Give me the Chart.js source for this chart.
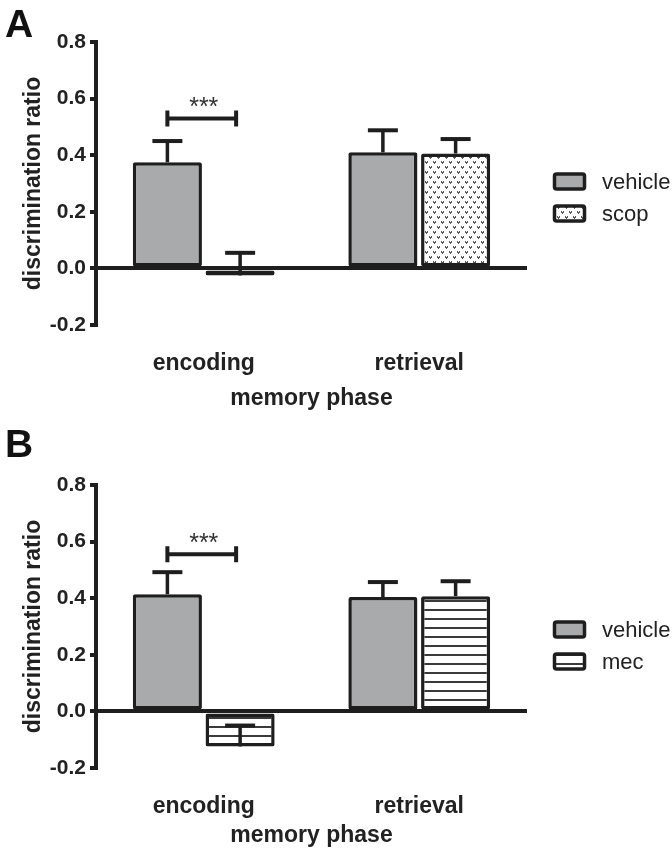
<!DOCTYPE html>
<html lang="en">
<head>
    <meta charset="UTF-8">
    <title>Discrimination ratio by memory phase</title>
    <script src="https://cdn.jsdelivr.net/npm/chart.js"></script>
    <style>
        * { margin: 0; padding: 0; box-sizing: border-box; }
        body { background: #fff; width: 672px; height: 852px; position: relative; overflow: hidden; }
        .panel { position: absolute; left: 0; width: 672px; }
        #panelA { top: 0; height: 420px; }
        #panelB { top: 420px; height: 432px; }
    </style>
</head>
<body>
    <div class="panel" id="panelA"><canvas id="chartA"></canvas></div>
    <div class="panel" id="panelB"><canvas id="chartB"></canvas></div>

    <script>
        // values
        const categories = ['encoding', 'retrieval'];
        const yTicks = [-0.2, 0.0, 0.2, 0.4, 0.6, 0.8];

        const vehicleA = [0.375, 0.41];
        const vehicleErrA = [0.075, 0.078];
        const scop = [-0.025, 0.406];
        const scopErr = [0.08, 0.051];
        const sigA = 0.53;

        const vehicleB = [0.414, 0.404];
        const vehicleErrB = [0.078, 0.053];
        const mec = [-0.124, 0.407];
        const mecErr = [0.074, 0.053];
        const sigB = 0.555;

        const FONT = "'Liberation Sans', Arial, sans-serif";
        const INK = '#1e1e1e';
        const GREY = '#a9aaac';

        function dotPattern() {
            // little grey "hearts", 8px apart, rows staggered every 5px
            const c = document.createElement('canvas');
            c.width = 8; c.height = 10;
            const g = c.getContext('2d');
            g.fillStyle = '#fff';
            g.fillRect(0, 0, 8, 10);
            g.fillStyle = '#5a5a5a';
            const heart = (x, y) => {
                g.fillRect(x, y, 1, 1);
                g.fillRect(x + 2, y, 1, 1);
                g.fillRect(x, y + 1, 3, 1);
                g.fillRect(x + 1, y + 2, 1, 1);
            };
            heart(1, 1);
            heart(5, 6);
            return g.createPattern(c, 'repeat');
        }

        function linePattern() {
            const c = document.createElement('canvas');
            c.width = 4; c.height = 9;
            const g = c.getContext('2d');
            g.fillStyle = '#fff';
            g.fillRect(0, 0, 4, 9);
            g.fillStyle = '#3a3a3a';
            g.fillRect(0, 0, 4, 2);
            return g.createPattern(c, 'repeat');
        }

        // error bars, significance bracket, legend and panel letter
        const decor = {
            id: 'decor',
            afterDatasetsDraw(chart, args, opts) {
                const ctx = chart.ctx;
                const ys = chart.scales.y;
                const area = chart.chartArea;
                ctx.save();
                ctx.strokeStyle = INK;
                ctx.lineCap = 'butt';

                // error bars (drawn upward from the bar end)
                chart.data.datasets.forEach((ds, i) => {
                    chart.getDatasetMeta(i).data.forEach((bar, j) => {
                        const y0 = ys.getPixelForValue(ds.data[j]);
                        const y1 = ys.getPixelForValue(ds.data[j] + ds.errors[j]);
                        ctx.lineWidth = 3.5;
                        ctx.beginPath();
                        ctx.moveTo(bar.x, y0);
                        ctx.lineTo(bar.x, y1);
                        ctx.stroke();
                        ctx.lineWidth = 4;
                        ctx.beginPath();
                        ctx.moveTo(bar.x - 15, y1);
                        ctx.lineTo(bar.x + 15, y1);
                        ctx.stroke();
                    });
                });

                // significance bracket over encoding
                const xa = chart.getDatasetMeta(0).data[0].x;
                const xb = chart.getDatasetMeta(1).data[0].x;
                const ySig = ys.getPixelForValue(opts.sig);
                ctx.lineWidth = 4;
                ctx.beginPath();
                ctx.moveTo(xa, ySig); ctx.lineTo(xb - 4, ySig);
                ctx.moveTo(xa, ySig - 8); ctx.lineTo(xa, ySig + 8);
                ctx.moveTo(xb - 4, ySig - 8); ctx.lineTo(xb - 4, ySig + 8);
                ctx.stroke();
                ctx.fillStyle = '#333';
                ctx.font = '25px ' + FONT;
                ctx.textAlign = 'center';
                ctx.textBaseline = 'alphabetic';
                ctx.fillText('***', (xa + xb) / 2, ySig - 3);

                // legend
                const midY = (area.top + area.bottom) / 2;
                const bx = area.right + 26;
                chart.data.datasets.forEach((ds, i) => {
                    const cy = midY + opts.legendShift + i * 32;
                    ctx.beginPath();
                    ctx.roundRect(bx + 1.5, cy - 7.5, 30, 15, 2);
                    ctx.fillStyle = ds.backgroundColor;
                    ctx.fill();
                    ctx.lineWidth = 3.5;
                    ctx.strokeStyle = INK;
                    ctx.stroke();
                    ctx.fillStyle = '#222';
                    ctx.font = '22px ' + FONT;
                    ctx.textAlign = 'left';
                    ctx.textBaseline = 'middle';
                    ctx.fillText(ds.label, bx + 49, cy + 1);
                });

                // panel letter
                ctx.fillStyle = '#111';
                ctx.font = 'bold 39px ' + FONT;
                ctx.textAlign = 'left';
                ctx.textBaseline = 'top';
                ctx.fillText(opts.letter, 5, 7);
                ctx.restore();
            }
        };

        function makeChart(id, treatLabel, treatValues, treatErr, treatFill, vehValues, vehErr, cfg) {
            const ctx = document.getElementById(id).getContext('2d');
            return new Chart(ctx, {
                type: 'bar',
                data: {
                    labels: categories,
                    datasets: [{
                        label: 'vehicle',
                        data: vehValues,
                        errors: vehErr,
                        backgroundColor: GREY,
                        borderColor: INK,
                        borderWidth: 3.5,
                        borderSkipped: false,
                        borderRadius: 2
                    }, {
                        label: treatLabel,
                        data: treatValues,
                        errors: treatErr,
                        backgroundColor: treatFill,
                        borderColor: INK,
                        borderWidth: 3.5,
                        borderSkipped: false,
                        borderRadius: 2
                    }]
                },
                options: {
                    responsive: true,
                    maintainAspectRatio: false,
                    animation: false,
                    categoryPercentage: 0.675,
                    barPercentage: 0.95,
                    layout: { padding: { top: cfg.top, right: 145, left: 0, bottom: 0 } },
                    plugins: {
                        legend: { display: false },
                        tooltip: { enabled: false },
                        decor: { sig: cfg.sig, letter: cfg.letter, legendShift: cfg.legendShift }
                    },
                    scales: {
                        x: {
                            afterFit: s => { s.height = cfg.bottom; },
                            grid: { display: false, drawTicks: false },
                            border: { display: false },
                            ticks: {
                                padding: 25,
                                color: '#222',
                                font: { family: FONT, size: 23, weight: 'bold' }
                            },
                            title: {
                                display: true,
                                text: 'memory phase',
                                color: '#222',
                                padding: { top: 0, bottom: cfg.titlePad },
                                font: { family: FONT, size: 23, weight: 'bold' }
                            }
                        },
                        y: {
                            min: -0.2,
                            max: 0.8,
                            afterFit: s => { s.width = 96; },
                            afterBuildTicks: s => { s.ticks = yTicks.map(v => ({ value: v })); },
                            grid: {
                                drawOnChartArea: true,
                                color: c => (c.tick && Math.abs(c.tick.value) < 1e-9) ? INK : 'rgba(0,0,0,0)',
                                lineWidth: 4,
                                tickColor: INK,
                                tickWidth: 4,
                                tickLength: 6
                            },
                            border: { display: true, color: INK, width: 4 },
                            ticks: {
                                padding: 4,
                                color: '#222',
                                font: { family: FONT, size: 21, weight: 'bold' },
                                callback: v => v.toFixed(1)
                            },
                            title: {
                                display: true,
                                text: 'discrimination ratio',
                                color: '#222',
                                padding: { top: 20, bottom: 0 },
                                font: { family: FONT, size: 23, weight: 'bold' }
                            }
                        }
                    }
                },
                plugins: [decor]
            });
        }

        makeChart('chartA', 'scop', scop, scopErr, dotPattern(), vehicleA, vehicleErrA,
            { top: 42, bottom: 95, titlePad: 8, sig: sigA, letter: 'A', legendShift: -2 });
        makeChart('chartB', 'mec', mec, mecErr, linePattern(), vehicleB, vehicleErrB,
            { top: 65, bottom: 84, titlePad: 3, sig: sigB, letter: 'B', legendShift: 3 });
    </script>
</body>
</html>
